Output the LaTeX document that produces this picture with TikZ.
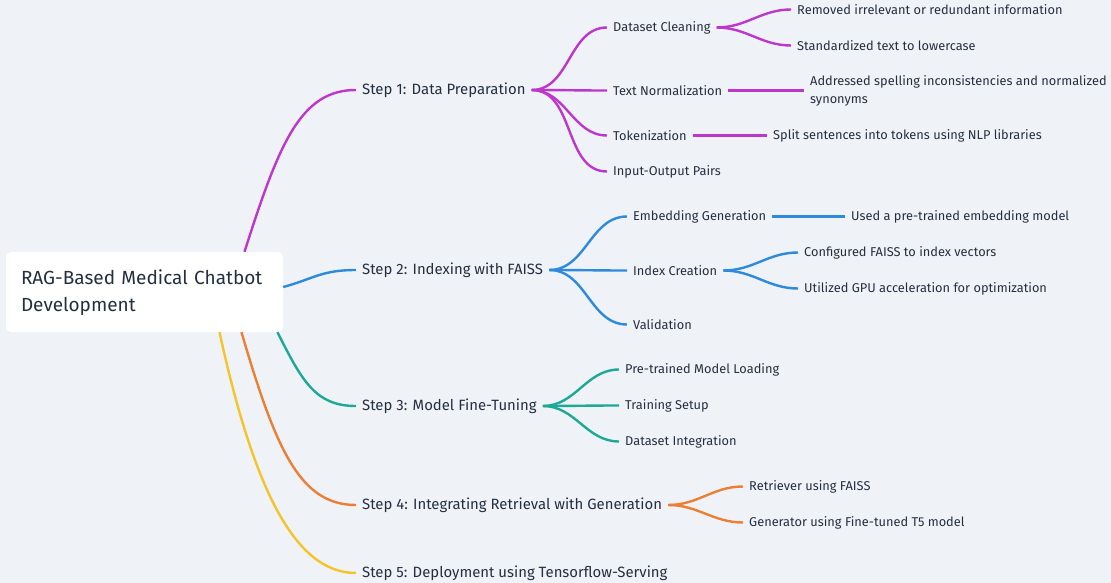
\documentclass[tikz,border=0pt]{standalone}
\usepackage{fontspec}
\setmainfont{Fira Sans}
\usetikzlibrary{positioning, calc}
\definecolor{bgpaper}{RGB}{239, 243, 247}
\definecolor{inkdark}{RGB}{36, 48, 64}
\definecolor{prepurple}{RGB}{190, 55, 205}
\definecolor{indexblue}{RGB}{45, 138, 220}
\definecolor{tuneteal}{RGB}{30, 168, 150}
\definecolor{ragorange}{RGB}{235, 128, 52}
\definecolor{deployyellow}{RGB}{245, 196, 40}
\tikzset{
  rootbox/.style={rectangle, rounded corners=5pt, fill=white, text width=247pt,
              align=left, minimum width=277pt, minimum height=80pt, inner xsep=15pt,
              text height=17pt, font=\fontsize{19pt}{27pt}\selectfont, text=inkdark},
  steplabel/.style={anchor=west, inner sep=0pt, text=inkdark, yshift=-2pt,
              font=\fontsize{14.9pt}{18pt}\selectfont},
  leaflabel/.style={anchor=west, inner sep=0pt, text=inkdark, align=left, yshift=-1.5pt,
              font=\fontsize{12.8pt}{18pt}\selectfont},
  branch/.style={line width=2.4pt, color=#1},
}

\begin{document}
\begin{tikzpicture}[x=1pt, y=-1pt]
  \fill[bgpaper] (0,0) rectangle (1111,583);
  \useasboundingbox (0,0) rectangle (1111,583);

  \node[rootbox] (root) at (144.5,292) {RAG-Based Medical Chatbot\\Development};

  % steps
  \node[steplabel] (s1) at (362,88) {Step 1: Data Preparation};
  \node[steplabel] (s2) at (362,268) {Step 2: Indexing with FAISS};
  \node[steplabel] (s3) at (362,404) {Step 3: Model Fine-Tuning};
  \node[steplabel] (s4) at (362,503) {Step 4: Integrating Retrieval with Generation};
  \node[steplabel] (s5) at (362,571) {Step 5: Deployment using Tensorflow-Serving};

  \draw[branch=prepurple] ([xshift=100pt]root.north) .. controls +(35,-110) and +(-55,0) .. ([xshift=-6pt]s1.west);
  \draw[branch=indexblue] ([yshift=5pt]root.east) .. controls +(30,-8) and +(-35,0) .. ([xshift=-6pt]s2.west);
  \draw[branch=tuneteal] ([xshift=133pt]root.south) .. controls +(25,50) and +(-40,0) .. ([xshift=-6pt]s3.west);
  \draw[branch=ragorange] ([xshift=97pt]root.south) .. controls +(35,120) and +(-55,0) .. ([xshift=-6pt]s4.west);
  \draw[branch=deployyellow] ([xshift=75pt]root.south) .. controls +(35,160) and +(-60,0) .. ([xshift=-6pt]s5.west);

  % step 1
  \node[leaflabel] (s1a) at (613,26) {Dataset Cleaning};
  \node[leaflabel] (s1b) at (613,89) {Text Normalization};
  \node[leaflabel] (s1c) at (613,134) {Tokenization};
  \node[leaflabel] (s1d) at (613,170) {Input-Output Pairs};
  \node[leaflabel] (s1a1) at (797,8) {Removed irrelevant or redundant information};
  \node[leaflabel] (s1a2) at (797,44) {Standardized text to lowercase};
  \node[leaflabel] (s1b1) at (810,89) {Addressed spelling inconsistencies and normalized\\synonyms};
  \node[leaflabel] (s1c1) at (773,134) {Split sentences into tokens using NLP libraries};
  \foreach \kid in {s1a, s1b, s1c, s1d}
    \draw[branch=prepurple] ([xshift=6pt]s1.east) to[out=0, in=180] ([xshift=-6pt]\kid.west);
  \foreach \kid in {s1a1, s1a2}
    \draw[branch=prepurple] ([xshift=6pt]s1a.east) to[out=0, in=180] ([xshift=-6pt]\kid.west);
  \draw[branch=prepurple] ([xshift=6pt]s1b.east) -- ([xshift=-6pt]s1b1.west);
  \draw[branch=prepurple] ([xshift=6pt]s1c.east) -- ([xshift=-6pt]s1c1.west);

  % step 2
  \node[leaflabel] (s2a) at (633,215) {Embedding Generation};
  \node[leaflabel] (s2b) at (633,269) {Index Creation};
  \node[leaflabel] (s2c) at (633,323) {Validation};
  \node[leaflabel] (s2a1) at (851,215) {Used a pre-trained embedding model};
  \node[leaflabel] (s2b1) at (804,251) {Configured FAISS to index vectors};
  \node[leaflabel] (s2b2) at (804,287) {Utilized GPU acceleration for optimization};
  \foreach \kid in {s2a, s2b, s2c}
    \draw[branch=indexblue] ([xshift=6pt]s2.east) to[out=0, in=180] ([xshift=-6pt]\kid.west);
  \draw[branch=indexblue] ([xshift=6pt]s2a.east) -- ([xshift=-6pt]s2a1.west);
  \foreach \kid in {s2b1, s2b2}
    \draw[branch=indexblue] ([xshift=6pt]s2b.east) to[out=0, in=180] ([xshift=-6pt]\kid.west);

  % step 3
  \node[leaflabel] (s3a) at (625,368) {Pre-trained Model Loading};
  \node[leaflabel] (s3b) at (625,404) {Training Setup};
  \node[leaflabel] (s3c) at (625,440) {Dataset Integration};
  \foreach \kid in {s3a, s3b, s3c}
    \draw[branch=tuneteal] ([xshift=6pt]s3.east) to[out=0, in=180] ([xshift=-6pt]\kid.west);

  % step 4
  \node[leaflabel] (s4a) at (749,485) {Retriever using FAISS};
  \node[leaflabel] (s4b) at (749,521) {Generator using Fine-tuned T5 model};
  \foreach \kid in {s4a, s4b}
    \draw[branch=ragorange] ([xshift=6pt]s4.east) to[out=0, in=180] ([xshift=-6pt]\kid.west);
\end{tikzpicture}
\end{document}
